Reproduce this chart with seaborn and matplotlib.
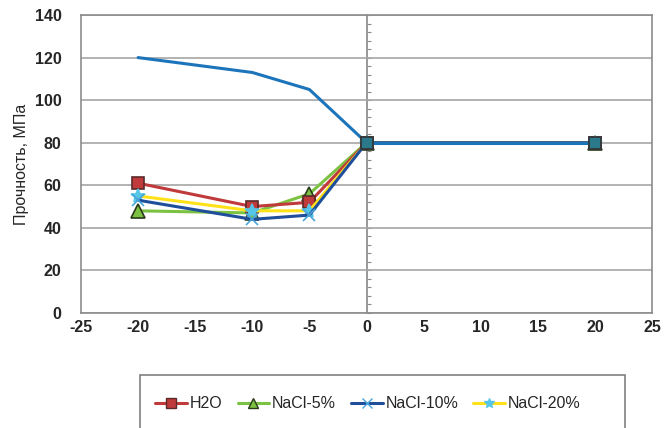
import matplotlib
matplotlib.use("Agg")
import matplotlib.pyplot as plt
from matplotlib.patches import Rectangle
from matplotlib.lines import Line2D
import seaborn as sns

# ---- data ----
temps = [-20, -10, -5, 0, 20]
upper = [120, 113, 105, 80, 80]
h2o = [61, 50, 52, 80, 80]
nacl5 = [48, 47, 56, 80, 80]
nacl10 = [53, 44, 46, 80, 80]
nacl20 = [55, 48, 48, 80, 80]
labels = ["H2O", "NaCl-5%", "NaCl-10%", "NaCl-20%"]
y_label = "Прочность, МПа"

sns.set_theme(style="white")
plt.rcParams['font.family'] = ['Liberation Sans', 'DejaVu Sans']
plt.rcParams['axes.unicode_minus'] = False

fig = plt.figure(figsize=(6.72, 4.28), dpi=100)
ax = fig.add_axes([81/672, 1-313/428, (652-81)/672, (313-15)/428])

grid_c = "#a6a6a6"
ax.set_xlim(-25, 25)
ax.set_ylim(0, 140)
ax.set_xticks(range(-25, 26, 5))
ax.set_yticks(range(0, 141, 20))
ax.yaxis.grid(True, color=grid_c, lw=1.2)
ax.xaxis.grid(False)
ax.set_axisbelow(True)
for s in ax.spines.values():
    s.set_color("#8c8c8c")
    s.set_linewidth(1.2)
ax.tick_params(axis='x', direction='in', length=4, color="#8c8c8c", labelsize=11.5, pad=5)
ax.tick_params(axis='y', direction='in', length=0, labelsize=11.5, pad=14)
for t in ax.get_xticklabels() + ax.get_yticklabels():
    t.set_fontweight('bold')

# vertical axis at x=0 with minor ticks
sec = ax.secondary_yaxis(0.5)
sec.set_yticks(range(0, 141, 4))
sec.set_yticklabels([])
sec.spines['right'].set_color("#8c8c8c")
sec.spines['left'].set_color("#8c8c8c")
sec.spines['left'].set_linewidth(1.2)
sec.tick_params(axis='y', which='both', direction='in', length=3, color="#8c8c8c", width=0.8,
                labelleft=False, labelright=False, right=False, left=True)

lw = 2.2
sns.lineplot(x=temps, y=upper, ax=ax, color="#1c74bb", lw=lw, legend=False)

styles = [
    (h2o, "#c0393b", "s", "#c0393b", "#5a2a2a", 9),
    (nacl5, "#7cc242", "^", "#7cc242", "#2b3a1a", 10),
    (nacl10, "#1f4e9a", "x", "#4aa6d8", "#4aa6d8", 9),
    (nacl20, "#ffe119", "*", "#55c6e8", "#55c6e8", 10),
]
order = [1, 0, 3, 2]
for i in order:
    vals, c, m, fc, ec, ms = styles[i]
    sns.lineplot(x=temps, y=vals, ax=ax, color=c, lw=lw, marker=m, markersize=ms,
                 markerfacecolor=fc, markeredgecolor=ec, markeredgewidth=1.2, legend=False)
sns.lineplot(x=temps[3:], y=upper[3:], ax=ax, color="#1c74bb", lw=lw, legend=False)
ax.plot(temps[3:], upper[3:], ls='none', marker='s', ms=9, mfc="#2a7a8c", mec="#333333", mew=1.2, zorder=5)

ax.set_ylabel(y_label, fontsize=11.5)
ax.yaxis.set_label_coords((29 - 81) / 571, 0.5)
ax.set_xlabel("")

# legend
fig.patches.append(Rectangle((140/672, -0.05), (625-140)/672, (428-375)/428 + 0.05,
                             transform=fig.transFigure, fill=False, edgecolor="#808080", lw=1.2))
handles = []
for vals, c, m, fc, ec, ms in styles:
    handles.append(Line2D([], [], color=c, lw=lw, marker=m, markersize=ms*0.75,
                          markerfacecolor=fc, markeredgecolor=ec, markeredgewidth=1.0))
fig.legend(handles, labels, loc='center left', bbox_to_anchor=(141/672, 1-404/428),
           ncol=4, frameon=False, fontsize=11.5, handlelength=2.0, handletextpad=0.15,
           columnspacing=0.95)

fig.savefig("out.png", dpi=100)
